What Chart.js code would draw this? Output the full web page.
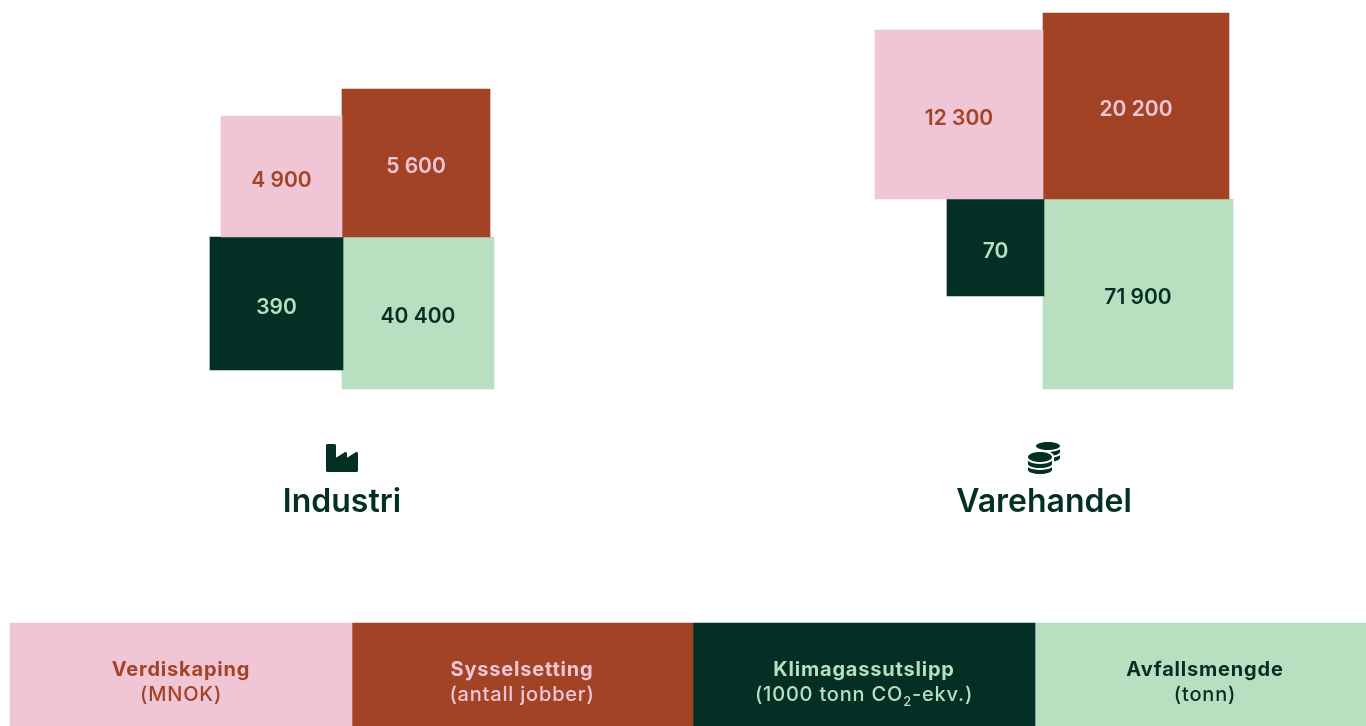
<!DOCTYPE html>
<html lang="no">
<head>
<meta charset="utf-8">
<title>Industri og varehandel</title>
<script src="https://cdn.jsdelivr.net/npm/chart.js@4"></script>
<style>
html,body{margin:0;padding:0;background:#fff;overflow:hidden}
#wrap{position:relative;width:1366px;height:726px}
canvas{position:absolute;left:0;top:0}
svg{position:absolute;width:32px;height:32px;fill:#032f25}
</style>
</head>
<body>
<div id="wrap">
<canvas id="c" width="1366" height="726"></canvas>
<svg style="left:326px;top:442px" viewBox="0 0 512 512"><path d="M475.115 163.781L336 252.309v-68.28c0-18.916-20.931-30.399-36.885-20.248L160 252.309V56c0-13.255-10.745-24-24-24H24C10.745 32 0 42.745 0 56v400c0 13.255 10.745 24 24 24h464c13.255 0 24-10.745 24-24V184.029c0-18.917-20.931-30.399-36.885-20.248z"/></svg>
<svg style="left:1028px;top:442px" viewBox="0 0 512 512"><path d="M0 405.3V448c0 35.3 86 64 192 64s192-28.7 192-64v-42.7C342.7 434.4 267.2 448 192 448S41.3 434.4 0 405.3zM320 128c106 0 192-28.7 192-64S426 0 320 0 128 28.7 128 64s86 64 192 64zM0 300.4V352c0 35.3 86 64 192 64s192-28.7 192-64v-51.6c-41.3 34-116.9 51.6-192 51.6S41.3 334.4 0 300.4zm416 11c57.3-11.1 96-31.7 96-55.4v-42.7c-23.2 16.4-57.3 27.6-96 34.5v63.6zM192 160C86 160 0 195.8 0 240s86 80 192 80 192-35.8 192-80-86-80-192-80zm219.3 56.3c60-10.8 100.7-32 100.7-56.3v-42.7c-35.5 25.1-96.5 38.6-160.7 41.8 29.5 14.3 51.2 33.5 60 57.2z"/></svg>
</div>
<script>
// ---- data ----
const measures = ["Verdiskaping", "Sysselsetting", "Klimagassutslipp", "Avfallsmengde"];
const units = ["(MNOK)", "(antall jobber)", "(1000 tonn CO₂-ekv.)", "(tonn)"];
const sectors = ["Industri", "Varehandel"];
const industriValues = [4900, 5600, 390, 40400];
const varehandelValues = [12300, 20200, 70, 71900];

// ---- layout and style (not data) ----
const FONT = "Inter, Roboto, sans-serif";
const fills = ["#f0c5d6", "#a34325", "#032f25", "#b8dfc0"];
const inks = ["#a34325", "#f0c5d6", "#b8dfc0", "#032f25"];
// rectangle extents on pixel-like linear axes: [x0, x1, y0, y1]
const industriBoxes = [[221,342,116,237],[342,490,89,237],[210,343,237,370],[342,494,237,389]];
const varehandelBoxes = [[875,1043,30,199],[1043,1229,13,199],[947,1044,199,296],[1043,1233,199,389]];
const legendBoxes = [[10,352,623,726],[352,693,623,726],[693,1035,623,726],[1035,1366,623,726]];
const legendCenters = [181, 522, 864, 1205];
const titleCenters = [342, 1044];

const fmt = v => String(v).replace(/\B(?=(\d{3})+$)/g, "\u00a0");

function boxDataset(box, i, label, text) {
  return {
    label,
    valueText: text,
    ink: inks[i],
    data: [{ x: [box[0], box[1]], y: (box[2] + box[3]) / 2 }],
    barThickness: box[3] - box[2],
    backgroundColor: fills[i],
    borderWidth: 0,
    grouped: false
  };
}

const datasets = [];
measures.forEach((m, i) => datasets.push(boxDataset(legendBoxes[i], i, "Forklaring " + m, null)));
industriValues.forEach((v, i) => datasets.push(boxDataset(industriBoxes[i], i, "Industri " + measures[i], fmt(v))));
varehandelValues.forEach((v, i) => datasets.push(boxDataset(varehandelBoxes[i], i, "Varehandel " + measures[i], fmt(v))));

function drawUnit(ctx, text, cx, y) {
  const parts = text.split("₂");
  if (parts.length === 1) { ctx.fillText(text, cx, y); return; }
  const mainFont = ctx.font;
  const w0 = ctx.measureText(parts[0]).width, w2 = ctx.measureText(parts[1]).width;
  ctx.font = "500 13px " + FONT;
  const ws = ctx.measureText("2").width;
  let x = cx - (w0 + ws + w2) / 2;
  ctx.textAlign = "left";
  ctx.fillText("2", x + w0, y + 5);
  ctx.font = mainFont;
  ctx.fillText(parts[0], x, y);
  ctx.fillText(parts[1], x + w0 + ws, y);
  ctx.textAlign = "center";
}

const textPlugin = {
  id: "texts",
  afterDatasetsDraw(chart) {
    const ctx = chart.ctx, xs = chart.scales.x, ys = chart.scales.y;
    ctx.save();
    ctx.textAlign = "center";
    ctx.textBaseline = "alphabetic";
    // value labels
    chart.data.datasets.forEach((ds) => {
      if (!ds.valueText) return;
      const d = ds.data[0];
      const cx = xs.getPixelForValue((d.x[0] + d.x[1]) / 2);
      const cy = ys.getPixelForValue(d.y);
      ctx.font = "600 21px " + FONT;
      ctx.fillStyle = ds.ink;
      ctx.fillText(ds.valueText, cx, cy + 10);
    });
    // sector titles
    ctx.font = "600 32px " + FONT;
    ctx.fillStyle = "#032f25";
    sectors.forEach((s, i) => ctx.fillText(s, xs.getPixelForValue(titleCenters[i]), ys.getPixelForValue(512)));
    // legend
    ctx.letterSpacing = "0.8px";
    measures.forEach((m, i) => {
      const cx = xs.getPixelForValue(legendCenters[i]);
      ctx.fillStyle = inks[i];
      ctx.font = "700 20px " + FONT;
      ctx.fillText(m, cx, ys.getPixelForValue(676));
      ctx.font = "500 20px " + FONT;
      drawUnit(ctx, units[i], cx, ys.getPixelForValue(701));
    });
    ctx.restore();
  }
};

new Chart(document.getElementById("c"), {
  type: "bar",
  data: { datasets },
  plugins: [textPlugin],
  options: {
    indexAxis: "y",
    responsive: false,
    animation: false,
    layout: { padding: 0 },
    plugins: { legend: { display: false }, title: { display: false }, tooltip: { enabled: false } },
    scales: {
      x: { type: "linear", min: 0, max: 1366, display: false },
      y: { type: "linear", min: 0, max: 726, reverse: true, offset: false, display: false }
    }
  }
});
</script>
</body>
</html>
